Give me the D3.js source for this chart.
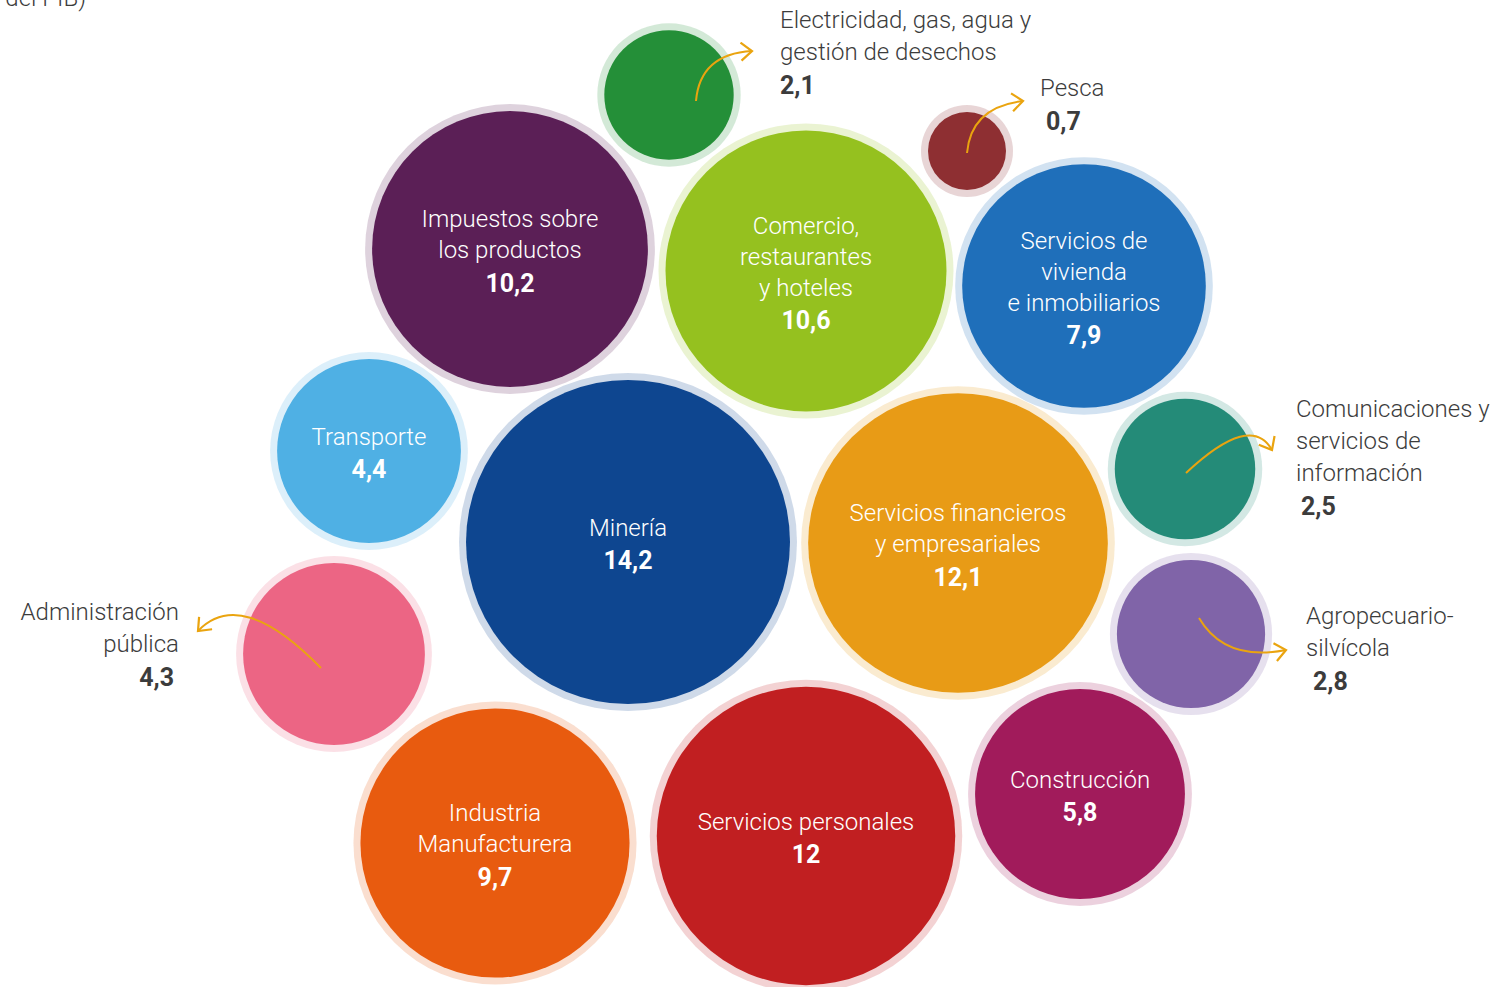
<!DOCTYPE html>
<html lang="es">
<head>
<meta charset="utf-8">
<script src="https://cdn.jsdelivr.net/npm/d3@7"></script>
<style>
  html, body { margin: 0; padding: 0; background: #fff; }
  svg { display: block; }
  .lbl { font-family: Roboto, "Noto Sans", sans-serif; font-weight: 300; font-size: 24px; }
  .val { font-family: Roboto, "Noto Sans", sans-serif; font-weight: 700; font-size: 25px; }
</style>
</head>
<body>
<svg id="chart" width="1508" height="987"></svg>
<script>
// 数据：各部门占GDP比例
const sectores = [
  "Electricidad, gas, agua y gestión de desechos", "Pesca", "Impuestos sobre los productos",
  "Comercio, restaurantes y hoteles", "Servicios de vivienda e inmobiliarios", "Transporte",
  "Minería", "Servicios financieros y empresariales", "Comunicaciones y servicios de información",
  "Agropecuario-silvícola", "Administración pública", "Industria Manufacturera",
  "Servicios personales", "Construcción"
];
const valores = [2.1, 0.7, 10.2, 10.6, 7.9, 4.4, 14.2, 12.1, 2.5, 2.8, 4.3, 9.7, 12, 5.8];

// 标签分行
const etiquetas = [
  ["Electricidad, gas, agua y", "gestión de desechos"], ["Pesca"], ["Impuestos sobre", "los productos"],
  ["Comercio,", "restaurantes", "y hoteles"], ["Servicios de", "vivienda", "e inmobiliarios"], ["Transporte"],
  ["Minería"], ["Servicios financieros", "y empresariales"], ["Comunicaciones y", "servicios de", "información"],
  ["Agropecuario-", "silvícola"], ["Administración", "pública"], ["Industria", "Manufacturera"],
  ["Servicios personales"], ["Construcción"]
];

// 颜色
const colores = [
  "#248f38", "#8e2f32", "#5b1f56", "#95c11f", "#1f6fba", "#4fb0e4", "#0e4690",
  "#e89b16", "#248b78", "#8064a8", "#ec6584", "#e85b0f", "#c11f21", "#a11b5b"
];

// 布局锚点（力导向的目标位置）
const anclas = [
  [669, 95], [967, 151], [510, 249], [806, 271], [1084, 286], [369, 451], [628, 542],
  [958, 543], [1185, 469], [1191, 634], [334, 654], [495, 843], [806, 836], [1080, 794]
];

// 外部标注：标签位置与箭头
const notas = [
  { i: 0, x: 780, y: 20, anchor: "start", vdx: 0, flecha: [[696, 101], [700, 54], [752, 51]] },
  { i: 1, x: 1040, y: 88, anchor: "start", vdx: 6, flecha: [[967, 153], [971, 107], [1023, 101]] },
  { i: 8, x: 1296, y: 409, anchor: "start", vdx: 5, flecha: [[1186, 473], [1251, 412], [1272, 450]] },
  { i: 9, x: 1306, y: 616, anchor: "start", vdx: 7, flecha: [[1199, 618], [1225, 662], [1286, 650]] },
  { i: 10, x: 179, y: 612, anchor: "end", vdx: -5, flecha: [[321, 668], [241, 586], [198, 631]] }
];

const fmt = d3.formatLocale({ decimal: ",", thousands: ".", grouping: [3], currency: ["", ""] }).format(".3~r");

const svg = d3.select("#chart");

// 半径比例尺
const rScale = d3.scalePow().exponent(0.5)
  .domain([d3.min(valores), d3.max(valores)])
  .range([39, 162]);

const nodos = valores.map((v, i) => ({
  i, v, r: rScale(v), x: anclas[i][0], y: anclas[i][1]
}));

// 力导向微调位置
const sim = d3.forceSimulation(nodos)
  .force("x", d3.forceX((d, i) => anclas[i][0]).strength(0.8))
  .force("y", d3.forceY((d, i) => anclas[i][1]).strength(0.8))
  .force("collide", d3.forceCollide(d => d.r + 5))
  .stop();
for (let k = 0; k < 120; k++) sim.tick();

// 顶部残留标题（原图被裁切）
svg.append("text")
  .attr("class", "lbl")
  .attr("x", 86).attr("y", 6)
  .attr("text-anchor", "end")
  .attr("fill", "#3c3c3c")
  .text("(en porcentaje del PIB)");

// 箭头标记
svg.append("defs").append("marker")
  .attr("id", "punta")
  .attr("markerUnits", "userSpaceOnUse")
  .attr("viewBox", "-14 -10 18 20")
  .attr("markerWidth", 18).attr("markerHeight", 20)
  .attr("refX", 0).attr("refY", 0)
  .attr("orient", "auto")
  .append("path")
  .attr("d", "M-11,-9 L0,0 L-11,9")
  .attr("fill", "none")
  .attr("stroke", "#eaa40f")
  .attr("stroke-width", 2.2);

// 绘制气泡
const g = svg.selectAll(".burbuja")
  .data(nodos)
  .enter()
  .append("g")
  .attr("class", "burbuja")
  .attr("transform", d => `translate(${d.x},${d.y})`);

g.append("circle")
  .attr("r", d => d.r + 7)
  .attr("fill", d => colores[d.i])
  .attr("opacity", 0.2);

g.append("circle")
  .attr("r", d => d.r)
  .attr("fill", d => colores[d.i]);

// 内部标签
const fuera = new Set(notas.map(n => n.i));
g.filter(d => !fuera.has(d.i)).each(function (d) {
  const lineas = etiquetas[d.i];
  const paso = 31, gap = 33;
  const total = (lineas.length - 1) * paso + gap;
  const y0 = -total / 2 + 2;
  const sel = d3.select(this);
  lineas.forEach((t, k) => {
    sel.append("text")
      .attr("class", "lbl")
      .attr("text-anchor", "middle")
      .attr("y", y0 + k * paso)
      .attr("dy", "0.35em")
      .attr("fill", "#fff")
      .text(t);
  });
  sel.append("text")
    .attr("class", "val")
    .attr("text-anchor", "middle")
    .attr("y", y0 + total)
    .attr("dy", "0.35em")
    .attr("fill", "#fff")
    .text(fmt(d.v));
});

// 外部标注
const curva = p => `M${p[0][0]},${p[0][1]} Q${p[1][0]},${p[1][1]} ${p[2][0]},${p[2][1]}`;
notas.forEach(n => {
  svg.append("path")
    .attr("d", curva(n.flecha))
    .attr("fill", "none")
    .attr("stroke", "#eaa40f")
    .attr("stroke-width", 2)
    .attr("marker-end", "url(#punta)");

  const lineas = etiquetas[n.i];
  const paso = 32;
  lineas.forEach((t, k) => {
    svg.append("text")
      .attr("class", "lbl")
      .attr("x", n.x)
      .attr("y", n.y + k * paso)
      .attr("dy", "0.35em")
      .attr("text-anchor", n.anchor)
      .attr("fill", "#3c3c3c")
      .text(t);
  });
  svg.append("text")
    .attr("class", "val")
    .attr("x", n.x + n.vdx)
    .attr("y", n.y + (lineas.length - 1) * paso + 33)
    .attr("dy", "0.35em")
    .attr("text-anchor", n.anchor)
    .attr("fill", "#3c3c3c")
    .text(fmt(valores[n.i]));
});
</script>
</body>
</html>
